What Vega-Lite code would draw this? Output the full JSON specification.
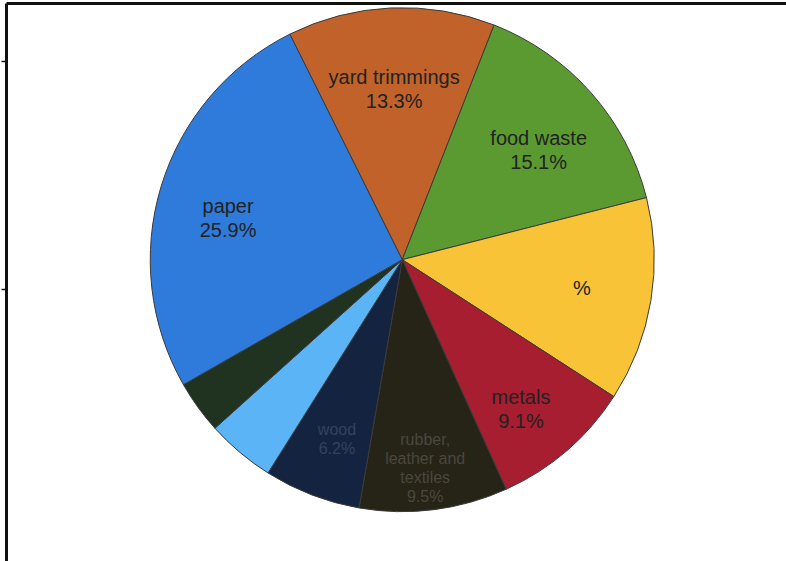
{
  "$schema": "https://vega.github.io/schema/vega-lite/v6.json",
  "width": 786,
  "height": 561,
  "autosize": {"type": "fit", "contains": "padding"},
  "padding": {"left": 0, "top": 3, "right": 0, "bottom": 0},
  "background": "white",
  "config": {"view": {"stroke": null}, "text": {"lineBreak": "\n"}},
  "data": {
    "values": [
      {"category": "yard trimmings", "value": 13.3, "ord": 1, "label": "yard trimmings\n13.3%"},
      {"category": "food waste", "value": 15.1, "ord": 2, "label": "food waste\n15.1%"},
      {"category": "plastics", "value": 13.1, "ord": 3, "label": "%"},
      {"category": "metals", "value": 9.1, "ord": 4, "label": "metals\n9.1%"},
      {"category": "rubber, leather and textiles", "value": 9.5, "ord": 5, "label": "rubber,\nleather and\ntextiles\n9.5%"},
      {"category": "wood", "value": 6.2, "ord": 6, "label": "wood\n6.2%"},
      {"category": "glass", "value": 4.4, "ord": 7, "label": ""},
      {"category": "other", "value": 3.4, "ord": 8, "label": ""},
      {"category": "paper", "value": 25.9, "ord": 9, "label": "paper\n25.9%"}
    ]
  },
  "encoding": {
    "theta": {"field": "value", "type": "quantitative", "stack": true, "scale": {"range": [-0.4625, 5.8207]}},
    "order": {"field": "ord", "type": "quantitative"},
    "x": {"datum": 0.508, "type": "quantitative", "scale": {"domain": [0, 1]},
          "axis": {"orient": "top", "domainColor": "#111", "domainWidth": 3, "ticks": false, "labels": false, "grid": false, "title": null}},
    "y": {"datum": 0.46, "type": "quantitative", "scale": {"domain": [0, 1], "reverse": true},
          "axis": {"orient": "left", "domainColor": "#111", "domainWidth": 3, "ticks": true, "tickColor": "#111", "tickWidth": 1.5, "tickSize": 5, "values": [0.104, 0.513], "labels": false, "grid": false, "title": null}}
  },
  "layer": [
    {
      "mark": {"type": "arc", "outerRadius": 252, "stroke": "#3a3a3a", "strokeWidth": 1},
      "encoding": {
        "color": {
          "field": "category", "type": "nominal", "legend": null,
          "scale": {
            "domain": ["yard trimmings", "food waste", "plastics", "metals", "rubber, leather and textiles", "wood", "glass", "other", "paper"],
            "range": ["#C0622A", "#5B9A31", "#F8C337", "#A61E2F", "#262317", "#142440", "#5AB4F5", "#1F3320", "#2F7BDB"]
          }
        }
      }
    },
    {
      "mark": {"type": "text", "radius": 182, "font": "Liberation Sans", "fontSize": 20, "lineHeight": 24, "align": "center", "baseline": "middle", "color": "#222222"},
      "encoding": {
        "text": {
          "condition": {"test": "datum.category === 'wood' || datum.category === 'rubber, leather and textiles'", "value": ""},
          "field": "label", "type": "nominal"
        }
      }
    },
    {
      "mark": {"type": "text", "radius": 182, "font": "Liberation Sans", "fontSize": 16, "lineHeight": 19, "align": "center", "baseline": "middle"},
      "encoding": {
        "text": {
          "condition": {"test": "datum.category !== 'wood' && datum.category !== 'rubber, leather and textiles'", "value": ""},
          "field": "label", "type": "nominal"
        },
        "color": {
          "condition": {"test": "datum.category === 'wood'", "value": "#34425e"},
          "value": "#4a483e"
        }
      }
    }
  ]
}
